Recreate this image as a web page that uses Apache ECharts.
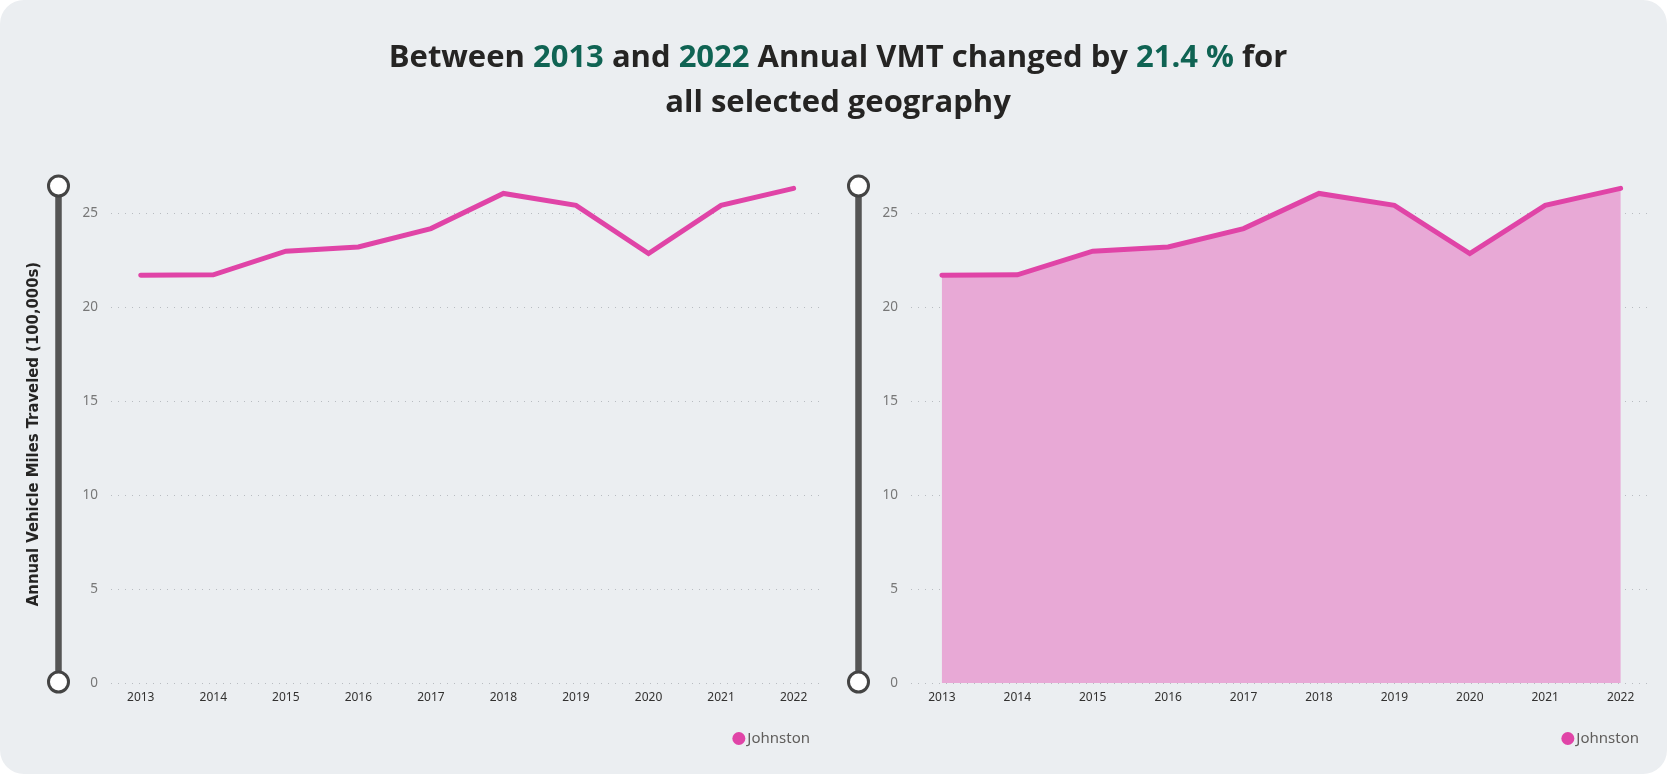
<!DOCTYPE html>
<html lang="en">
<head>
    <meta charset="UTF-8">
    <title>Annual VMT</title>
    <style>
        html, body { margin: 0; padding: 0; background: #ffffff; }
        #card {
            position: absolute;
            left: 0; top: 0;
            width: 1667px; height: 774px;
            border-radius: 24px;
            background: #ebeef1;
            overflow: hidden;
        }
        #chart-container { width: 1671px; height: 776px; }
    </style>
</head>
<body>
    <div id="card"><div id="chart-container"></div></div>
    <script src="https://cdn.jsdelivr.net/npm/echarts@6/dist/echarts.min.js"></script>
    <script>
        // chart data
        const years = [2013, 2014, 2015, 2016, 2017, 2018, 2019, 2020, 2021, 2022];
        const vmt = [21.7, 21.72, 22.98, 23.2, 24.18, 26.05, 25.42, 22.85, 25.42, 26.32];
        const yTicks = [0, 5, 10, 15, 20, 25];
        const seriesName = 'Johnston';
        const titleParts = { from: '2013', to: '2022', change: '21.4 %' };

        const pink = '#e044a7';
        const fontFamily = '"Noto Sans", "Open Sans", sans-serif';

        var dom = document.getElementById('chart-container');
        var myChart = echarts.init(dom, null, { renderer: 'canvas' });

        const points = years.map(function (y, i) { return [y, vmt[i]]; });

        function xAxisFor(gridIndex) {
            return {
                type: 'value',
                gridIndex: gridIndex,
                min: 2012.59,
                max: 2022.35,
                axisLine: { show: false },
                axisTick: { show: false, customValues: years },
                splitLine: { show: false },
                axisLabel: {
                    customValues: years,
                    margin: 9,
                    color: '#323130',
                    fontSize: 12,
                    fontFamily: fontFamily,
                    formatter: function (v) { return String(v); }
                }
            };
        }

        function yAxisFor(gridIndex, withName) {
            const axis = {
                type: 'value',
                gridIndex: gridIndex,
                min: 0,
                max: 26.5,
                axisLine: { show: false },
                axisTick: { show: false, customValues: yTicks },
                axisLabel: {
                    customValues: yTicks,
                    margin: 13,
                    color: '#777777',
                    fontSize: 13.5,
                    fontFamily: fontFamily
                },
                splitLine: {
                    show: true,
                    lineStyle: { color: '#b8bcc1', width: 1, type: [1, 6] }
                }
            };
            if (withName) {
                axis.name = 'Annual Vehicle Miles Traveled (100,000s)';
                axis.nameLocation = 'middle';
                axis.nameGap = 69;
                axis.nameTextStyle = {
                    color: '#252423',
                    fontSize: 16.5,
                    fontWeight: 'bold',
                    fontFamily: '"DejaVu Sans Condensed", "DejaVu Sans", sans-serif'
                };
            }
            return axis;
        }

        function sliderFor(axisIndex, left) {
            return {
                type: 'slider',
                yAxisIndex: axisIndex,
                orient: 'vertical',
                filterMode: 'none',
                left: left,
                top: 185,
                bottom: 93,
                width: 6,
                start: 0,
                end: 100,
                showDetail: false,
                showDataShadow: false,
                brushSelect: false,
                moveHandleSize: 0,
                backgroundColor: '#555555',
                fillerColor: '#555555',
                borderColor: 'transparent',
                borderRadius: 0,
                dataBackground: { lineStyle: { opacity: 0 }, areaStyle: { opacity: 0 } },
                selectedDataBackground: { lineStyle: { opacity: 0 }, areaStyle: { opacity: 0 } },
                handleIcon: 'circle',
                handleSize: 20,
                handleStyle: { color: '#ffffff', borderColor: '#444444', borderWidth: 3 },
                emphasis: { handleStyle: { color: '#ffffff', borderColor: '#444444', borderWidth: 3 } }
            };
        }

        function legendFor(right) {
            return {
                right: right, top: 726,
                icon: 'circle', itemWidth: 13, itemHeight: 13, itemGap: 2,
                textStyle: { color: '#605e5c', fontSize: 15, fontFamily: fontFamily, padding: [0, 0, 0, -3] },
                data: [seriesName]
            };
        }

        const titleFont = '"Open Sans", sans-serif';

        const option = {
            animation: false,
            backgroundColor: 'transparent',
            title: {
                left: 833,
                top: 31,
                textAlign: 'center',
                text: '{d|Between }{g|' + titleParts.from + '}{d| and }{g|' + titleParts.to +
                      '}{d| Annual VMT changed by }{g|' + titleParts.change + '}{d| for}\n{d|all selected geography}',
                textStyle: {
                    rich: {
                        d: { color: '#252423', fontSize: 31, fontWeight: 'bold', fontFamily: titleFont, lineHeight: 45 },
                        g: { color: '#0f6353', fontSize: 31, fontWeight: 'bold', fontFamily: titleFont, lineHeight: 45 }
                    }
                }
            },
            grid: [
                { left: 111, top: 185, width: 708, height: 498 },
                { left: 911, top: 185, width: 736, height: 498 }
            ],
            xAxis: [xAxisFor(0), xAxisFor(1)],
            yAxis: [yAxisFor(0, true), yAxisFor(1, false)],
            dataZoom: [sliderFor(0, 54), sliderFor(1, 854)],
            legend: [legendFor(856), legendFor(27)],
            series: [
                {
                    name: seriesName,
                    type: 'line',
                    xAxisIndex: 0,
                    yAxisIndex: 0,
                    data: points,
                    showSymbol: false,
                    symbol: 'none',
                    color: pink,
                    lineStyle: { width: 5, color: pink, cap: 'round', join: 'miter' }
                },
                {
                    name: seriesName,
                    type: 'line',
                    xAxisIndex: 1,
                    yAxisIndex: 1,
                    data: points,
                    showSymbol: false,
                    symbol: 'none',
                    color: pink,
                    lineStyle: { width: 5, color: pink, cap: 'round', join: 'miter' },
                    areaStyle: { color: '#e8a9d6', opacity: 1, origin: 'start' }
                }
            ]
        };

        myChart.setOption(option);
        window.addEventListener('resize', myChart.resize);
    </script>
</body>
</html>
